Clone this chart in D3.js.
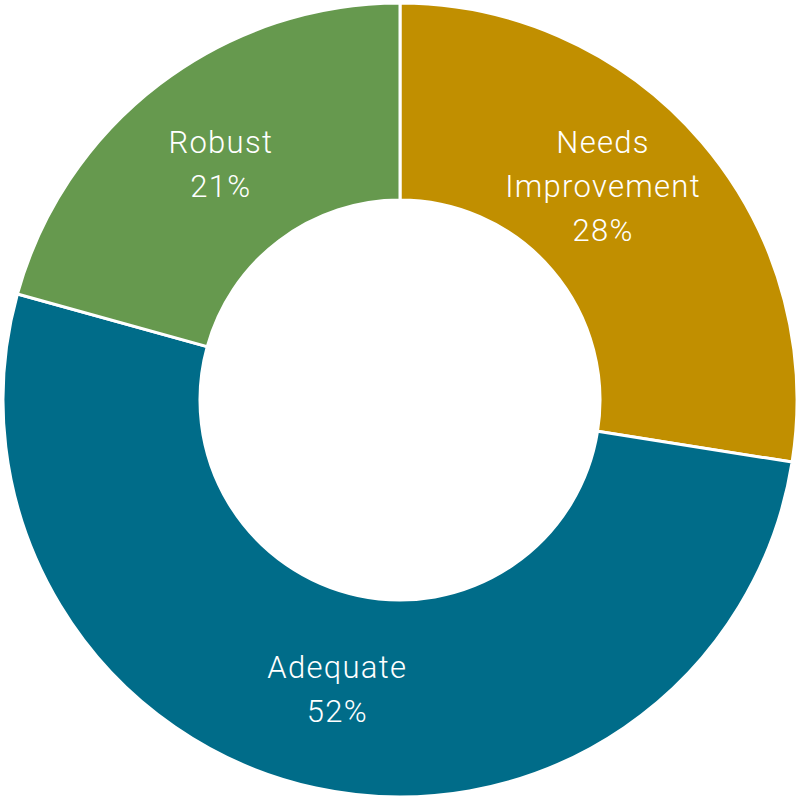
<!DOCTYPE html>
<html>
<head>
<meta charset="utf-8">
<script src="https://cdn.jsdelivr.net/npm/d3@7"></script>
<style>
  html, body { margin: 0; padding: 0; background: #ffffff; }
  svg { display: block; }
</style>
</head>
<body>
<svg id="chart" width="800" height="800"></svg>
<script>
const categories = ["Needs Improvement", "Adequate", "Robust"];
const values = [27.5, 51.8, 20.7];
const labelLines = [["Needs", "Improvement", "28%"], ["Adequate", "52%"], ["Robust", "21%"]];
const colors = ["#C18F00", "#006C89", "#66994E"];

const W = 800, H = 800;
const cx = 400, cy = 400;
const outerR = 397, innerR = 200;

const svg = d3.select("#chart");
const g = svg.append("g").attr("transform", `translate(${cx},${cy})`);

const data = categories.map((c, i) => ({ name: c, value: values[i], lines: labelLines[i], color: colors[i] }));

const pie = d3.pie().value(d => d.value).sort(null);
const arc = d3.arc().innerRadius(innerR).outerRadius(outerR);
const labelArc = d3.arc().innerRadius(innerR).outerRadius(outerR - 5);

const arcs = pie(data);

g.selectAll("path.slice")
  .data(arcs)
  .enter().append("path")
  .attr("class", "slice")
  .attr("d", arc)
  .attr("fill", d => d.data.color)
  .attr("stroke", "#ffffff")
  .attr("stroke-width", 3)
  .attr("stroke-linejoin", "miter");

const lineH = 44;
const labels = g.selectAll("text.lbl")
  .data(arcs)
  .enter().append("text")
  .attr("class", "lbl")
  .attr("text-anchor", "middle")
  .attr("fill", "#ffffff")
  .style("font-family", "Roboto, 'Open Sans', sans-serif")
  .style("font-weight", 300)
  .style("font-size", "31px")
  .style("letter-spacing", "1.3px")
  .attr("transform", d => {
    const [x, y] = labelArc.centroid(d);
    const n = d.data.lines.length;
    const shiftY = n > 2 ? -22 : 0;
    const shiftX = n > 2 ? -22 : 0;
    return `translate(${x + shiftX},${y + shiftY})`;
  });

labels.each(function(d) {
  const n = d.data.lines.length;
  const t = d3.select(this);
  d.data.lines.forEach((ln, i) => {
    t.append("tspan")
      .attr("x", 0)
      .attr("y", (i - (n - 1) / 2) * lineH)
      .attr("dy", "0.35em")
      .text(ln);
  });
});
</script>
</body>
</html>
